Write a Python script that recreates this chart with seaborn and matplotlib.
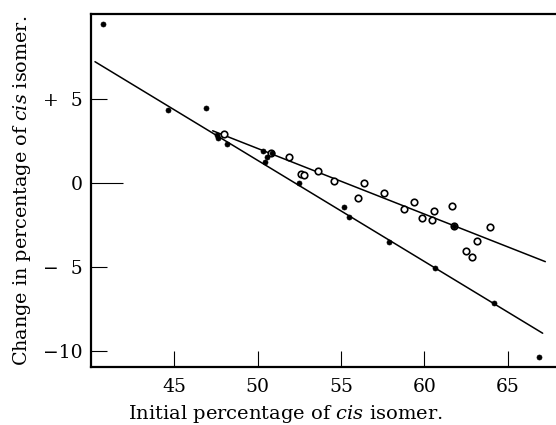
import matplotlib
matplotlib.use("Agg")
import matplotlib.pyplot as plt
import seaborn as sns
import pandas as pd

# ---- data ----
filled_x = [40.74, 44.6, 46.9, 47.56, 47.64, 48.17, 50.3, 50.45, 50.55, 50.85,
            52.5, 55.15, 55.45, 57.9, 60.65, 61.75, 64.2, 66.85]
filled_y = [9.45, 4.32, 4.45, 2.83, 2.66, 2.3, 1.9, 1.25, 1.5, 1.75,
            -0.04, -1.46, -2.06, -3.53, -5.07, -2.58, -7.18, -10.39]

open_x = [48.0, 50.8, 51.85, 52.6, 52.8, 53.6, 54.6, 55.99, 56.35, 57.6, 58.8,
          59.4, 59.85, 60.45, 60.55, 61.65, 61.75, 62.5, 62.85, 63.15, 63.95]
open_y = [2.92, 1.75, 1.52, 0.5, 0.43, 0.71, 0.1, -0.93, 0.0, -0.6, -1.57,
          -1.13, -2.12, -2.22, -1.68, -1.39, -2.58, -4.05, -4.44, -3.45, -2.62]

line_a_x = [40.24, 67.1]
line_a_y = [7.2, -8.96]
line_b_x = [47.3, 67.26]
line_b_y = [3.09, -4.70]

x_ticks = [45, 50, 55, 60, 65]
y_ticks = [5, 0, -5, -10]
y_tick_labels = ["+  5", "0", "\u2212  5", "\u221210"]

# ---- plotting ----
sns.set_style("white")
plt.rcParams["font.family"] = ["DejaVu Serif"]
plt.rcParams["mathtext.fontset"] = "dejavuserif"

fig = plt.figure(figsize=(5.56, 4.25), dpi=100)
ax = fig.add_axes([91 / 556, 58 / 425, 1 - 91 / 556, (367 - 14) / 425])

df_f = pd.DataFrame({"x": filled_x, "y": filled_y})
df_o = pd.DataFrame({"x": open_x, "y": open_y})
df_a = pd.DataFrame({"x": line_a_x, "y": line_a_y})
df_b = pd.DataFrame({"x": line_b_x, "y": line_b_y})

sns.lineplot(data=df_a, x="x", y="y", ax=ax, color="black", lw=1.1,
             sort=False, estimator=None)
sns.lineplot(data=df_b, x="x", y="y", ax=ax, color="black", lw=1.1,
             sort=False, estimator=None)
sns.scatterplot(data=df_o, x="x", y="y", ax=ax, marker="o", s=22,
                facecolor="white", edgecolor="black", linewidth=1.2, zorder=3)
sns.scatterplot(data=df_f, x="x", y="y", ax=ax, marker="o", s=13,
                color="black", edgecolor="black", linewidth=0.5, zorder=4)

ax.set_xlim(40.0, 67.9)
ax.set_ylim(-10.97, 10.04)

ax.set_xticks(x_ticks)
ax.set_xticklabels([str(t) for t in x_ticks])
ax.set_yticks(y_ticks)
ax.set_yticklabels(y_tick_labels)

ax.tick_params(axis="both", direction="in", length=11.5, width=0.8,
               color="black", labelsize=13.5, labelcolor="black")
ax.tick_params(axis="x", pad=8)
ax.tick_params(axis="y", pad=6)
ax.tick_params(axis="x", which="both", bottom=True)
ax.tick_params(axis="y", which="both", left=True)
# longer tick for zero
ax.yaxis.get_major_ticks()[1].tick1line.set_markersize(23)

for side in ["left", "top", "bottom"]:
    ax.spines[side].set_visible(True)
    ax.spines[side].set_color("black")
    ax.spines[side].set_linewidth(1.6)
ax.spines["right"].set_visible(False)

ax.set_xlabel(r"Initial percentage of $\it{cis}$ isomer.", fontsize=14,
              color="black")
ax.xaxis.set_label_coords(0.419, -0.102)
ax.set_ylabel(r"Change in percentage of $\it{cis}$ isomer.", fontsize=13.8,
              color="black")
ax.yaxis.set_label_coords(-0.124, 0.5)

fig.savefig("out.png", dpi=100)
